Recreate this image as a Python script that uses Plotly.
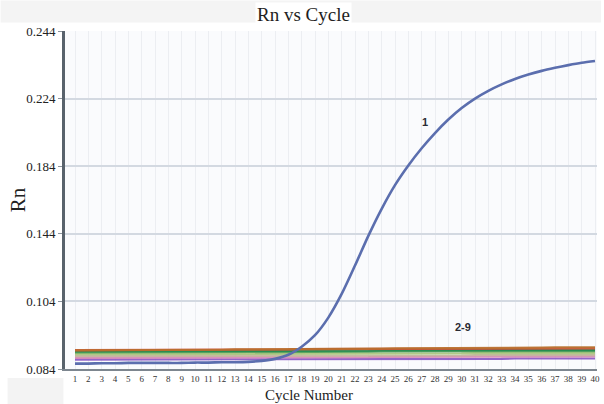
import numpy as np
import plotly.graph_objects as go

# Cycle numbers
cycles = list(range(1, 41))

# Rn tick labels on the y axis (evenly spaced gridlines)
y_tick_values = [0.084, 0.104, 0.144, 0.184, 0.224, 0.244]
y_tick_text = ["0.084", "0.104", "0.144", "0.184", "0.224", "0.244"]

# Sample 1: amplifying reaction
rn_1 = [0.0856, 0.0856, 0.0857, 0.0857, 0.0858, 0.0858, 0.0858, 0.0858, 0.0858, 0.0859,
        0.0859, 0.0860, 0.0860, 0.0861, 0.0864, 0.0870, 0.0882, 0.0906, 0.0940, 0.0992,
        0.1084, 0.1252, 0.1428, 0.1588, 0.1728, 0.1844, 0.1946, 0.2036, 0.2116, 0.2184,
        0.2240, 0.2263, 0.2282, 0.2298, 0.2311, 0.2322, 0.2331, 0.2339, 0.2346, 0.2351]

# Samples 2-9: no amplification (flat baselines)
rn_2 = [0.0895, 0.0895, 0.0895, 0.0895, 0.0896, 0.0896, 0.0896, 0.0896, 0.0897, 0.0897,
        0.0897, 0.0897, 0.0898, 0.0898, 0.0898, 0.0898, 0.0899, 0.0899, 0.0899, 0.0899,
        0.0900, 0.0900, 0.0900, 0.0900, 0.0901, 0.0901, 0.0901, 0.0901, 0.0902, 0.0902,
        0.0902, 0.0902, 0.0903, 0.0903, 0.0903, 0.0903, 0.0904, 0.0904, 0.0904, 0.0904]
rn_3 = [0.0896, 0.0896, 0.0896, 0.0896, 0.0896, 0.0897, 0.0897, 0.0897, 0.0897, 0.0897,
        0.0897, 0.0898, 0.0898, 0.0898, 0.0898, 0.0898, 0.0898, 0.0899, 0.0899, 0.0899,
        0.0899, 0.0899, 0.0899, 0.0899, 0.0900, 0.0900, 0.0900, 0.0900, 0.0900, 0.0900,
        0.0900, 0.0900, 0.0901, 0.0901, 0.0901, 0.0901, 0.0901, 0.0901, 0.0901, 0.0901]
rn_4 = [0.0892, 0.0892, 0.0892, 0.0892, 0.0892, 0.0892, 0.0892, 0.0893, 0.0893, 0.0893,
        0.0893, 0.0893, 0.0893, 0.0893, 0.0893, 0.0894, 0.0894, 0.0894, 0.0894, 0.0894,
        0.0894, 0.0894, 0.0894, 0.0895, 0.0895, 0.0895, 0.0895, 0.0895, 0.0895, 0.0895,
        0.0895, 0.0895, 0.0896, 0.0896, 0.0896, 0.0896, 0.0896, 0.0896, 0.0896, 0.0896]
rn_5 = [0.0889, 0.0889, 0.0889, 0.0889, 0.0889, 0.0889, 0.0889, 0.0890, 0.0890, 0.0890,
        0.0890, 0.0890, 0.0890, 0.0890, 0.0890, 0.0891, 0.0891, 0.0891, 0.0891, 0.0891,
        0.0891, 0.0891, 0.0891, 0.0892, 0.0892, 0.0892, 0.0892, 0.0892, 0.0892, 0.0892,
        0.0892, 0.0892, 0.0893, 0.0893, 0.0893, 0.0893, 0.0893, 0.0893, 0.0893, 0.0893]
rn_6 = [0.0884, 0.0884, 0.0884, 0.0884, 0.0884, 0.0884, 0.0884, 0.0884, 0.0884, 0.0884,
        0.0885, 0.0885, 0.0885, 0.0885, 0.0885, 0.0885, 0.0885, 0.0885, 0.0885, 0.0885,
        0.0886, 0.0886, 0.0886, 0.0886, 0.0886, 0.0886, 0.0886, 0.0886, 0.0886, 0.0886,
        0.0887, 0.0887, 0.0887, 0.0887, 0.0887, 0.0887, 0.0887, 0.0887, 0.0887, 0.0887]
rn_7 = [0.0878, 0.0878, 0.0878, 0.0878, 0.0878, 0.0878, 0.0878, 0.0878, 0.0878, 0.0878,
        0.0879, 0.0879, 0.0879, 0.0879, 0.0879, 0.0879, 0.0879, 0.0879, 0.0879, 0.0879,
        0.0880, 0.0880, 0.0880, 0.0880, 0.0880, 0.0880, 0.0880, 0.0880, 0.0880, 0.0880,
        0.0881, 0.0881, 0.0881, 0.0881, 0.0881, 0.0881, 0.0881, 0.0881, 0.0881, 0.0881]
rn_8 = [0.0873, 0.0873, 0.0873, 0.0873, 0.0873, 0.0873, 0.0873, 0.0874, 0.0874, 0.0874,
        0.0874, 0.0874, 0.0874, 0.0874, 0.0874, 0.0875, 0.0875, 0.0875, 0.0875, 0.0875,
        0.0875, 0.0875, 0.0875, 0.0876, 0.0876, 0.0876, 0.0876, 0.0876, 0.0876, 0.0876,
        0.0876, 0.0876, 0.0877, 0.0877, 0.0877, 0.0877, 0.0877, 0.0877, 0.0877, 0.0877]
rn_9 = [0.0868, 0.0868, 0.0868, 0.0868, 0.0868, 0.0868, 0.0868, 0.0868, 0.0868, 0.0868,
        0.0868, 0.0868, 0.0869, 0.0869, 0.0869, 0.0869, 0.0869, 0.0869, 0.0869, 0.0869,
        0.0869, 0.0869, 0.0869, 0.0870, 0.0870, 0.0870, 0.0870, 0.0870, 0.0870, 0.0870,
        0.0870, 0.0870, 0.0870, 0.0871, 0.0871, 0.0871, 0.0871, 0.0871, 0.0871, 0.0871]

baseline_series = [rn_9, rn_8, rn_7, rn_6, rn_5, rn_4, rn_3, rn_2]
baseline_colors = ["#8a55c4", "#d884b8", "#c2b49a", "#a8c47a",
                   "#4f9f55", "#1f8a50", "#d2473a", "#b8702c"]

# The gridlines are evenly spaced, so map Rn onto gridline index positions
grid_positions = list(range(len(y_tick_values)))


def to_axis(values):
    return np.interp(values, y_tick_values, grid_positions)


serif = "Liberation Serif"
sans = "Liberation Sans"

fig = go.Figure()

for series, color in zip(baseline_series, baseline_colors):
    fig.add_trace(go.Scatter(x=cycles, y=to_axis(series), mode="lines",
                             line=dict(color=color, width=2.2), showlegend=False,
                             opacity=0.9))

fig.add_trace(go.Scatter(x=cycles, y=to_axis(rn_1), mode="lines",
                         line=dict(color="#5b6eae", width=2.6, shape="spline", smoothing=0.8),
                         showlegend=False))

# Sample labels
fig.add_annotation(x=27.25, y=float(to_axis(0.2104)), text="<b>1</b>", showarrow=False,
                   font=dict(family=sans, size=11, color="#2b2b33"))
fig.add_annotation(x=30.1, y=float(to_axis(0.0964)), text="<b>2-9</b>", showarrow=False,
                   font=dict(family=sans, size=11, color="#2b2b33"))

# Light header strip and small box at lower left
fig.add_shape(type="rect", xref="paper", yref="paper", x0=-0.121, x1=1.0075,
              y0=1.025, y1=1.09, fillcolor="#f4f4f4", line_width=0, layer="below")
fig.add_shape(type="rect", xref="paper", yref="paper", x0=-0.108, x1=-0.003,
              y0=-0.0266, y1=-0.1036, fillcolor="#f3f3f3", line_width=0, layer="below")

# Title and axis titles
fig.add_annotation(xref="paper", yref="paper", x=0.449, y=1.085, yanchor="top",
                   xanchor="center", text="Rn vs Cycle", showarrow=False,
                   bgcolor="#ffffff",
                   font=dict(family=serif, size=19, color="#1e1e1e"))
fig.add_annotation(xref="paper", yref="paper", x=0.458, y=-0.077, yanchor="middle",
                   xanchor="center", text="Cycle Number", showarrow=False,
                   font=dict(family=serif, size=15, color="#222222"))
fig.add_annotation(xref="paper", yref="paper", x=-0.088, y=0.5, textangle=-90,
                   xanchor="center", yanchor="middle",
                   text="Rn", showarrow=False,
                   font=dict(family=serif, size=21, color="#222222"))

fig.update_layout(
    width=604, height=404,
    margin=dict(l=65, r=4, t=31, b=35),
    paper_bgcolor="#ffffff",
    plot_bgcolor="#fafbfd",
    showlegend=False,
)

fig.update_xaxes(
    range=[0.25, 40.15],
    tickmode="array", tickvals=cycles, ticktext=[str(c) for c in cycles],
    tickfont=dict(family=serif, size=9, color="#333333"),
    showgrid=True, gridcolor="#eceef2", gridwidth=1,
    showline=True, linecolor="#7d868f", linewidth=2,
    ticks="", zeroline=False,
)

fig.update_yaxes(
    range=[0, 5],
    tickmode="array", tickvals=grid_positions, ticktext=y_tick_text,
    tickfont=dict(family=serif, size=13, color="#222222"),
    showgrid=True, gridcolor="#d3d9e1", gridwidth=1.5,
    showline=True, linecolor="#58626c", linewidth=3,
    ticks="outside", ticklen=4, tickcolor="#8a939c", tickwidth=1,
    zeroline=False,
)

fig.write_html("out.html")
